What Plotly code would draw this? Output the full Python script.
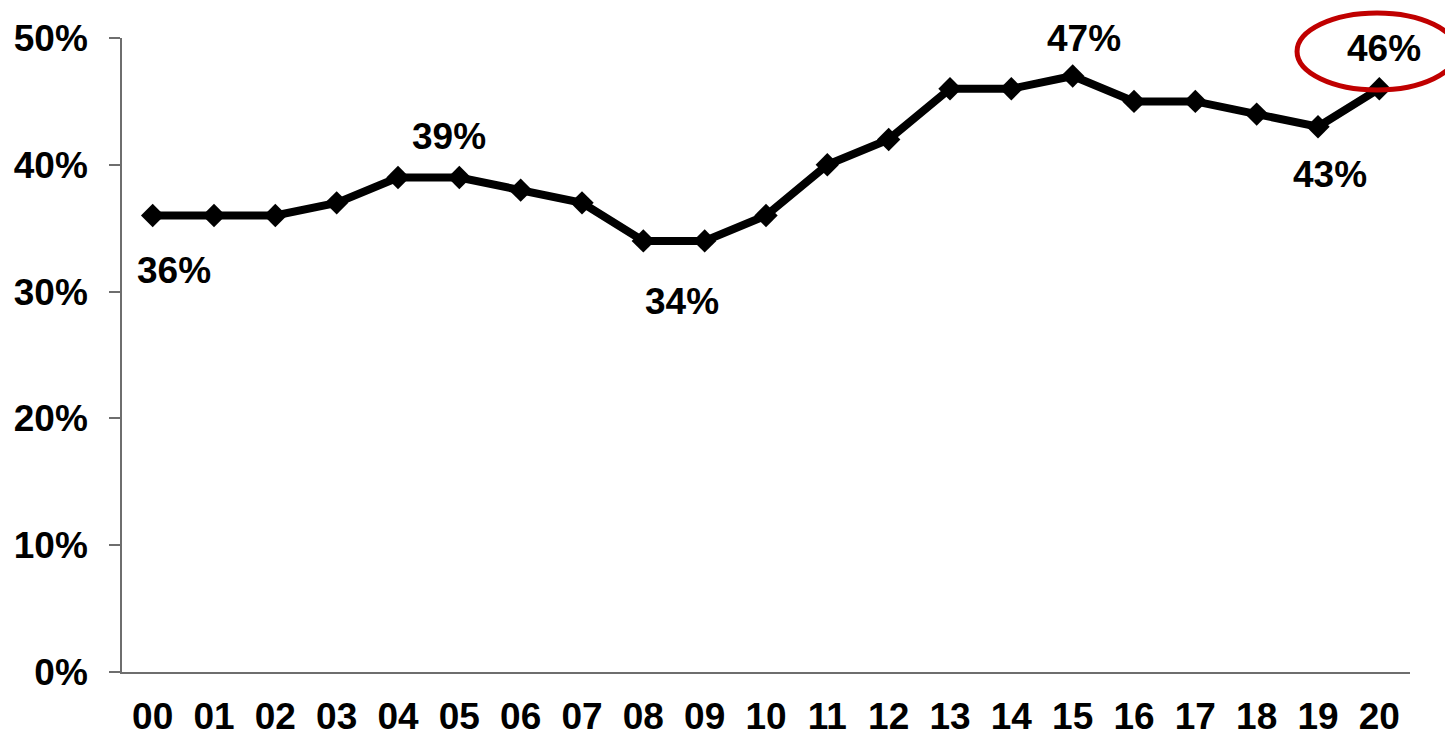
import plotly.graph_objects as go

years = ["00","01","02","03","04","05","06","07","08","09","10",
         "11","12","13","14","15","16","17","18","19","20"]
values = [36,36,36,37,39,39,38,37,34,34,36,40,42,46,46,47,45,45,44,43,46]
y_ticks = [0,10,20,30,40,50]
y_tick_text = ["0%","10%","20%","30%","40%","50%"]

# labelled points: (index, xshift, yshift)
labels = [(0, 21, -55), (5, -10, 41), (9, -23, -61), (15, 11, 38), (19, 12, -48), (20, 5, 40)]

FONT = dict(family="Liberation Sans, Arial, sans-serif", size=37, color="black", weight="bold")

fig = go.Figure()
fig.add_trace(go.Scatter(
    x=years, y=values, mode="lines+markers",
    line=dict(color="black", width=8),
    marker=dict(symbol="diamond", size=18, color="black"),
    cliponaxis=False, hoverinfo="skip"))

for i, xs, ys in labels:
    fig.add_annotation(x=years[i], y=values[i], text=f"{values[i]}%", showarrow=False,
                       xshift=xs, yshift=ys, font=FONT)

# red ellipse around last label (paper coords so it is not clipped)
fig.add_shape(type="circle", xref="paper", yref="paper",
              x0=0.9123, x1=1.0365, y0=0.918, y1=1.0394,
              line=dict(color="#C00000", width=5), layer="above")

fig.update_layout(
    width=1445, height=722,
    margin=dict(l=114, r=43, t=30, b=58, autoexpand=False),
    paper_bgcolor="white", plot_bgcolor="white",
    showlegend=False,
    font=FONT,
)
fig.update_xaxes(type="category", showgrid=False, zeroline=False, automargin=False,
                 showline=True, linecolor="#6e6e6e", linewidth=1.5,
                 ticks="", tickfont=FONT, ticklabelstandoff=11,
                 range=[-0.5, 20.5])
fig.update_yaxes(range=[0, 50], tickvals=y_ticks, ticktext=y_tick_text,
                 showgrid=False, zeroline=False, automargin=False,
                 showline=True, linecolor="#6e6e6e", linewidth=1.5,
                 ticks="outside", ticklen=11, tickcolor="#6e6e6e", tickwidth=1.5,
                 tickfont=FONT, ticklabelstandoff=14)

fig.write_html("out.html")
